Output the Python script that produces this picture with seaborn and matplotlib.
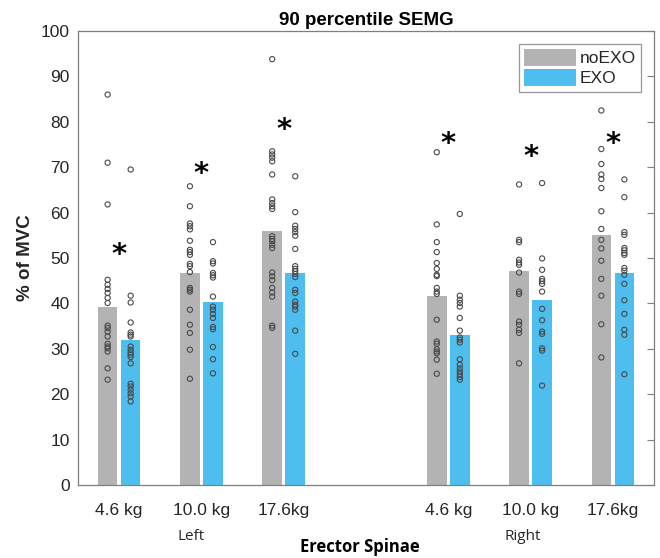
import numpy as np
import pandas as pd
import matplotlib
matplotlib.use("Agg")
import matplotlib.pyplot as plt
import matplotlib.transforms as mtransforms
import seaborn as sns

# ---------------- data ----------------
load_labels = ["4.6 kg", "10.0 kg", "17.6kg", "4.6 kg", "10.0 kg", "17.6kg"]
group_positions = [1, 2, 3, 5, 6, 7]
side_labels = ["Left", "Right"]
conditions = ["noEXO", "EXO"]

# bar heights (means)
mean_noexo = [39.3, 46.7, 55.9, 41.7, 47.1, 55.1]
mean_exo = [32.0, 40.4, 46.8, 33.1, 40.7, 46.8]

# significance asterisk heights
star_y = [52.2, 70.2, 79.9, 76.7, 73.9, 76.8]

# individual subjects
left46_noexo = [86.0, 71.0, 61.8, 45.2, 44.1, 43.2, 42.3, 41.2, 40.1, 35.1, 34.6, 33.8, 32.7, 31.1, 30.5, 30.1, 29.4, 25.7, 23.2]
left46_exo = [69.5, 41.7, 40.2, 35.8, 33.6, 33.1, 32.7, 30.5, 29.8, 29.2, 28.7, 28.2, 26.8, 22.3, 21.7, 21.0, 20.2, 19.5, 18.4]
left100_noexo = [65.8, 61.4, 57.6, 57.0, 56.3, 53.8, 51.8, 51.3, 50.7, 48.7, 48.2, 46.9, 43.4, 43.0, 42.6, 38.6, 35.3, 33.5, 29.8, 23.4]
left100_exo = [53.5, 49.3, 48.8, 46.7, 46.2, 45.7, 41.5, 39.3, 38.6, 37.7, 36.8, 34.8, 34.3, 30.4, 27.7, 24.6]
left176_noexo = [93.8, 73.5, 72.8, 72.1, 71.3, 68.4, 62.9, 62.1, 61.4, 60.8, 54.8, 54.2, 53.7, 52.9, 52.2, 46.8, 46.0, 45.1, 43.4, 42.4, 41.5, 35.1, 34.6]
left176_exo = [68.0, 60.1, 57.1, 56.4, 55.7, 54.9, 52.0, 48.2, 47.6, 47.1, 46.5, 45.8, 43.0, 42.3, 40.4, 39.7, 39.3, 38.6, 34.0, 28.9]
right46_noexo = [73.3, 57.4, 53.5, 51.3, 48.9, 47.6, 46.3, 46.0, 43.4, 42.6, 42.1, 36.4, 31.6, 31.1, 29.9, 29.4, 29.0, 27.6, 24.5]
right46_exo = [59.7, 41.7, 40.8, 40.1, 39.3, 36.8, 34.0, 32.5, 32.0, 31.4, 27.7, 26.5, 25.7, 25.0, 24.4, 23.8, 23.2]
right100_noexo = [66.2, 54.0, 53.5, 49.6, 49.0, 48.5, 46.8, 42.6, 42.1, 36.0, 35.3, 34.2, 33.5, 26.8]
right100_exo = [66.5, 49.9, 47.4, 45.4, 44.9, 44.3, 42.6, 38.8, 36.3, 33.8, 33.3, 30.1, 29.6, 21.9]
right176_noexo = [82.5, 74.0, 70.7, 68.4, 67.4, 65.4, 60.3, 56.4, 54.0, 52.1, 49.4, 45.4, 41.7, 35.4, 28.1]
right176_exo = [67.3, 63.4, 55.7, 55.1, 52.2, 51.7, 51.1, 50.7, 47.8, 47.2, 46.3, 44.3, 40.7, 37.7, 34.2, 33.1, 24.4]

points_noexo = [left46_noexo, left100_noexo, left176_noexo, right46_noexo, right100_noexo, right176_noexo]
points_exo = [left46_exo, left100_exo, left176_exo, right46_exo, right100_exo, right176_exo]

# ---------------- layout / style ----------------
offsets = {"noEXO": -0.14, "EXO": 0.14}
palette = {"noEXO": "#b3b3b3", "EXO": "#4dbeee"}

bar_rows = []
pt_rows = []
for i, gp in enumerate(group_positions):
    for cond, means, pts in (("noEXO", mean_noexo, points_noexo), ("EXO", mean_exo, points_exo)):
        xp = round(gp + offsets[cond], 3)
        bar_rows.append({"xpos": xp, "value": means[i], "cond": cond})
        for v in pts[i]:
            pt_rows.append({"xpos": xp, "value": v, "cond": cond})
bar_df = pd.DataFrame(bar_rows)
pt_df = pd.DataFrame(pt_rows)

sns.set_style("white")
plt.rcParams["font.family"] = ["Liberation Sans", "DejaVu Sans"]

fig = plt.figure(figsize=(6.6, 5.58), dpi=100)
ax = fig.add_axes([78 / 660, 1 - 485 / 558, 576 / 660, 454 / 558])

sns.barplot(data=bar_df, x="xpos", y="value", hue="cond", hue_order=conditions,
            palette=palette, native_scale=True, dodge=False, width=0.85,
            errorbar=None, linewidth=0, saturation=1, ax=ax)

sns.scatterplot(data=pt_df, x="xpos", y="value", marker="o", s=14,
                facecolor="none", edgecolor="#4a4a4a", linewidth=0.8,
                legend=False, ax=ax, zorder=3)

for gp, sy in zip(group_positions, star_y):
    ax.annotate("*", xy=(gp, sy), xytext=(0, -11), textcoords="offset points",
                ha="center", va="baseline", fontsize=21, fontweight="bold",
                color="black", family=["DejaVu Sans"])

ax.set_xlim(0.5, 7.5)
ax.set_ylim(0, 100)
ax.set_xticks(group_positions)
ax.set_xticklabels(load_labels)
ax.set_yticks(np.arange(0, 101, 10))

tick_color = "#262626"
ax.tick_params(axis="y", direction="in", length=5, width=0.8, color="#7f7f7f",
               labelsize=12.5, labelcolor=tick_color, right=True, pad=6)
ax.tick_params(axis="x", length=0, labelsize=12.5, labelcolor=tick_color, pad=13)
for sp in ax.spines.values():
    sp.set_visible(True)
    sp.set_color("#7f7f7f")
    sp.set_linewidth(0.9)

ax.set_title("90 percentile SEMG", fontsize=13.5, fontweight="bold", pad=4, color="black")

ax.set_ylabel("% of MVC", fontsize=13.5, fontweight="bold", color=tick_color)
ax.yaxis.set_label_coords((25 - 78) / 576, 0.5)
ax.yaxis.label.set_va("center")

ax.set_xlabel("Erector Spinae", fontsize=12, fontweight="bold", color="black",
              family=["Open Sans", "DejaVu Sans"])
ax.xaxis.set_label_coords((360 - 78) / 576, (485 - 547) / 454)
ax.xaxis.label.set_va("center")

trans = mtransforms.blended_transform_factory(ax.transData, ax.transAxes)
for xs, lab in zip([1.88, 5.91], side_labels):
    ax.text(xs, (485 - 536) / 454, lab, transform=trans, ha="center", va="center",
            fontsize=11, color=tick_color, family=["Open Sans", "DejaVu Sans"])

handles, labels = ax.get_legend_handles_labels()
leg = ax.legend(handles, labels, loc="upper right", frameon=True, fancybox=False,
                edgecolor="#7f7f7f", fontsize=12.5, handlelength=3.0, handleheight=1.1,
                handletextpad=0.2, borderpad=0.3, labelspacing=0.15, borderaxespad=0.75)
leg.get_frame().set_linewidth(0.9)

fig.savefig("out.png", dpi=100, facecolor="white")
